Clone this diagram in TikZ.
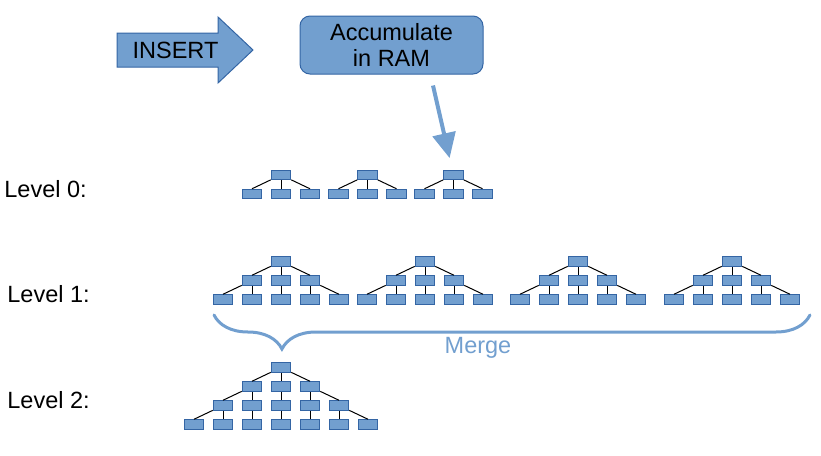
\documentclass[tikz,border=0pt]{standalone}
\usepackage{fontspec}
\setmainfont{Liberation Sans}
\usetikzlibrary{arrows.meta,decorations.pathreplacing}
\definecolor{boxfill}{HTML}{729FCF}
\definecolor{boxline}{HTML}{3465A4}

\begin{document}
\begin{tikzpicture}[
x=0.5pt, y=-0.5pt,
level distance=9.5pt,
sibling distance=14.5pt,
blk/.style={rectangle, draw=boxline, fill=boxfill, line width=0.5pt, minimum width=9.75pt, minimum height=4.75pt, inner sep=0pt},
edge from parent/.style={draw, black, line width=0.5pt},
edge from parent path={(\tikzparentnode) -- (\tikzchildnode.north)},
lbl/.style={inner sep=0pt, font=\fontsize{11.75}{13.3}\selectfont},
accbox/.style={lbl, rectangle, rounded corners=5pt, draw=boxline, fill=boxfill, line width=0.5pt, minimum width=91.5pt, minimum height=29pt, align=center},
feed/.style={boxfill, line width=2pt, shorten >=6pt, -{Triangle[length=12.5pt,width=11.5pt]}},
mergebrace/.style={boxfill, line width=1.5pt, line cap=round, decorate, decoration={brace, mirror, amplitude=17pt, aspect=0.114}}
]
\useasboundingbox (0,0) rectangle (821,456);

% incoming writes
\draw[draw=boxline, fill=boxfill, line width=0.5pt] (117,33) -- (218,33) -- (218,17) -- (253,50) -- (218,83) -- (218,67) -- (117,67) -- cycle;
\node[lbl, anchor=base] (insert) at (175.5,58.3) {INSERT};
\node[accbox] (acc) at (391.5,45) {Accumulate\\in RAM};

% level labels
\node[lbl, anchor=base west] (lvzero) at (4,197) {Level 0:};
\node[lbl, anchor=base west] (lvone) at (7,302) {Level 1:};
\node[lbl, anchor=base west] (lvtwo) at (7,408) {Level 2:};

% level 0
\foreach \x/\n in {281/a,367.5/b,453.5/c}
  \node[blk] (lz\n) at (\x,175) {}
    child{node[blk]{}}
    child{node[blk]{}}
    child{node[blk]{}};

% level 1
\foreach \x/\n in {281/a,425/b,578/c,732/d}
  \node[blk] (lo\n) at (\x,261.5) {}
    child{node[blk]{}
      child{node[blk]{}}
      child{node[blk]{}}
      child[missing]
    }
    child{node[blk]{}
      child{node[blk]{}}
    }
    child{node[blk]{}
      child[missing]
      child{node[blk]{}}
      child{node[blk]{}}
    };

% level 2
\node[blk] (ltwo) at (281,367.5) {}
  child{node[blk]{}
    child{node[blk]{}
      child{node[blk]{}}
      child{node[blk]{}}
      child[missing]
    }
    child{node[blk]{}
      child{node[blk]{}}
    }
    child[missing]
  }
  child{node[blk]{}
    child{node[blk]{}
      child{node[blk]{}}
    }
  }
  child{node[blk]{}
    child[missing]
    child{node[blk]{}
      child{node[blk]{}}
    }
    child{node[blk]{}
      child[missing]
      child{node[blk]{}}
      child{node[blk]{}}
    }
  };

\draw[feed] ([shift={(41.5,11)}]acc.south) -- (lzc);

\coordinate (bl) at (214,315);
\coordinate (br) at (810,315);
\draw[mergebrace] (bl) -- (br);
\node[lbl, text=boxfill, anchor=base] (merge) at (478,353) {Merge};
\end{tikzpicture}
\end{document}
